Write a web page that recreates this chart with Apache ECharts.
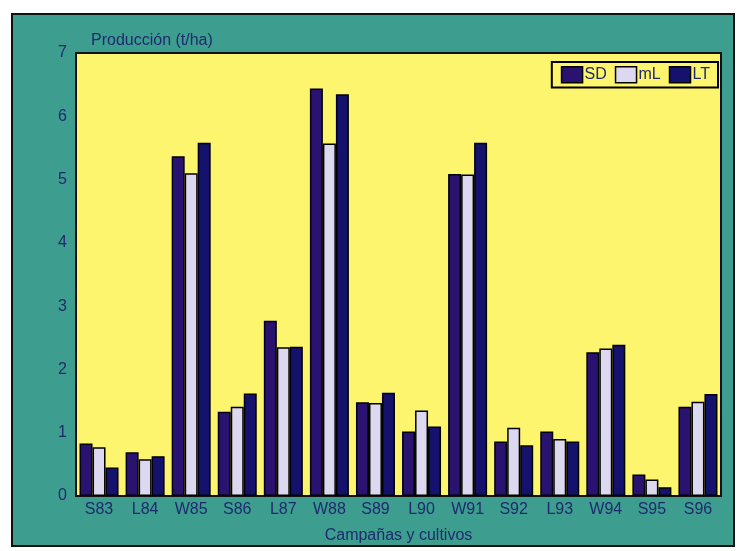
<!DOCTYPE html>
<html>
<head>
<meta charset="utf-8">
<script src="https://cdn.jsdelivr.net/npm/echarts@6/dist/echarts.min.js"></script>
<style>html,body{margin:0;padding:0;background:#fff}#c{width:742px;height:551px}</style>
</head>
<body>
<div id="c"></div>
<script>
const categories = ['S83','L84','W85','S86','L87','W88','S89','L90','W91','S92','L93','W94','S95','S96'];
const sd = [0.83,0.69,5.37,1.33,2.77,6.44,1.48,1.02,5.09,0.86,1.02,2.27,0.34,1.41];
const ml = [0.77,0.58,5.10,1.41,2.35,5.57,1.47,1.35,5.08,1.08,0.90,2.33,0.26,1.49];
const lt = [0.45,0.63,5.58,1.62,2.36,6.35,1.63,1.10,5.58,0.80,0.86,2.39,0.14,1.61];
const yTicks = [0,1,2,3,4,5,6,7];

const font = 'Liberation Sans';
const txt = '#1f2a6e';
const chart = echarts.init(document.getElementById('c'));
const barStyle = (c) => ({ color: c, borderColor: '#000', borderWidth: 1.5 });
chart.setOption({
  backgroundColor: '#ffffff',
  animation: false,
  textStyle: { fontFamily: font },
  graphic: [{
    type: 'rect', z: -10, silent: true,
    shape: { x: 12, y: 14, width: 722, height: 532 },
    style: { fill: '#3d9e8f', stroke: '#111', lineWidth: 2 }
  }],
  title: {
    text: 'Producción (t/ha)', left: 86, top: 28,
    textStyle: { fontFamily: font, fontSize: 16, fontWeight: 'normal', color: txt }
  },
  legend: {
    data: ['SD','mL','LT'], right: 24, top: 62, icon: 'rect',
    itemWidth: 21, itemHeight: 16, itemGap: 8,
    borderColor: '#000', borderWidth: 2, padding: [4, 8, 4, 9],
    textStyle: { fontFamily: font, fontSize: 16, color: txt, padding: [0,0,0,-3] },
    itemStyle: { borderColor: '#000', borderWidth: 1.5 }
  },
  grid: {
    left: 76, right: 21, top: 53, bottom: 55,
    show: true, backgroundColor: '#fcf56d', borderColor: '#111', borderWidth: 2
  },
  xAxis: {
    type: 'category', data: categories,
    axisLine: { lineStyle: { color: '#111', width: 2 } },
    axisTick: { show: false },
    axisLabel: { color: txt, fontSize: 16, fontFamily: font, margin: 6 },
    name: 'Campañas y cultivos', nameLocation: 'middle', nameGap: 32,
    nameTextStyle: { color: txt, fontSize: 16, fontFamily: font }
  },
  yAxis: {
    type: 'value', min: 0, max: 7, interval: 1,
    axisLine: { show: true, lineStyle: { color: '#111', width: 2 } },
    axisTick: { show: false },
    splitLine: { show: false },
    axisLabel: {
      color: txt, fontSize: 16, fontFamily: font, margin: 9,
      formatter: (v) => yTicks.includes(v) ? String(v) : ''
    }
  },
  series: [
    { name: 'SD', type: 'bar', data: sd, barWidth: 13, barGap: '0%', itemStyle: barStyle('#2a1370') },
    { name: 'mL', type: 'bar', data: ml, barWidth: 13, barGap: '0%', itemStyle: barStyle('#dcd8f0') },
    { name: 'LT', type: 'bar', data: lt, barWidth: 13, barGap: '0%', itemStyle: barStyle('#15126e') }
  ]
});
</script>
</body>
</html>
